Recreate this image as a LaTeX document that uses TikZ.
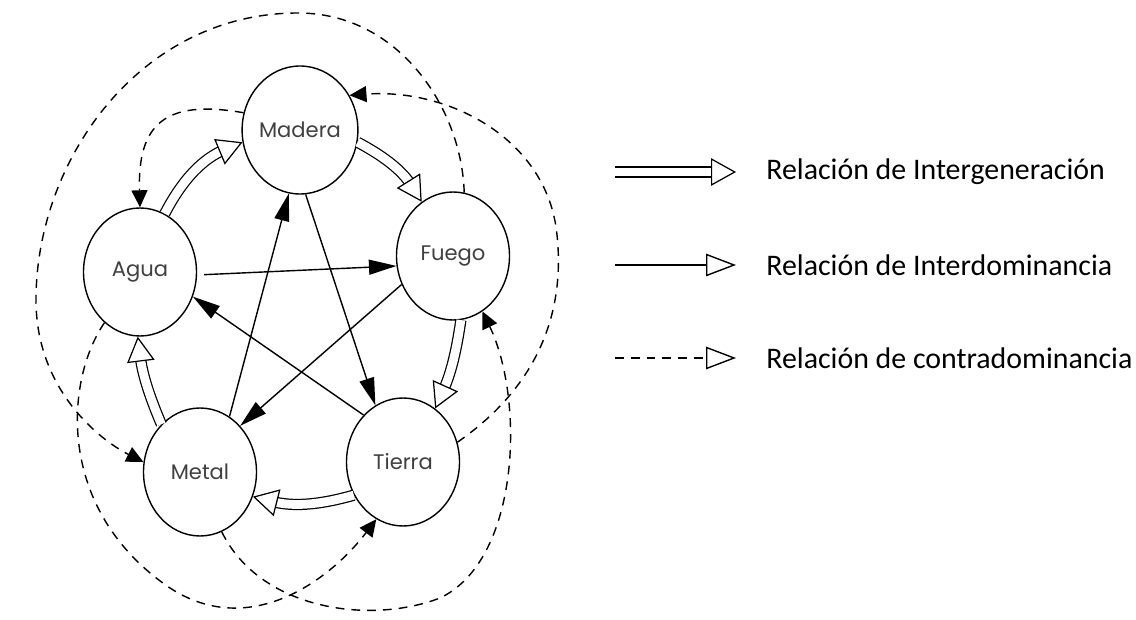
\documentclass[tikz,border=0pt]{standalone}
\usepackage{fontspec}
\setmainfont{Carlito}
\newfontfamily\elemfont{Poppins}
\usetikzlibrary{positioning,shapes.geometric,arrows.meta}

\tikzset{
  elem/.style={draw, ellipse, line width=0.8pt, minimum width=2.26cm, minimum height=2.56cm,
    inner sep=0pt, font=\elemfont\fontsize{12}{14}\selectfont, text=black!75},
  dom/.style={line width=0.8pt, -{Triangle[length=0.55cm, width=0.3cm]}},
  contra/.style={line width=0.8pt, dash pattern=on 5pt off 4pt, -{Triangle[length=0.34cm, width=0.32cm]}},
  gen/.style={double, double distance=5pt, line width=0.7pt, shorten >=0.4cm},
  genhead/.style={line width=0.7pt, dash pattern=on 0pt off 30cm, -{Triangle[length=0.5cm, width=0.55cm, fill=white]}},
  legdom/.style={line width=0.8pt, -{Triangle[length=0.6cm, width=0.45cm, fill=white]}},
  legend/.style={font=\fontsize{17}{20}\selectfont, inner sep=0pt}
}

\begin{document}
\begin{tikzpicture}
    \useasboundingbox (0,0) rectangle (22.72,12.38);

    % Elements
    \node[elem] (madera) at (6.00,9.78) {Madera};
    \node[elem] (agua)   at (2.80,6.94) {Agua};
    \node[elem] (fuego)  at (9.06,7.26) {Fuego};
    \node[elem] (metal)  at (4.00,2.94) {Metal};
    \node[elem] (tierra) at (8.06,3.14) {Tierra};

    % Intergeneration (hollow double arrows)
    \foreach \a/\b/\bend in {agua.67/madera.192/20, madera.-12/fuego.120/15,
        fuego.-83/tierra.59/8, tierra.214/metal.335/15, metal.129/agua.268/8}{
      \draw[gen] (\a) to[bend left=\bend] (\b);
      \draw[genhead] (\a) to[bend left=\bend] (\b);
    }

    % Interdominance
    \draw[dom, shorten <=4pt] (agua.-3) -- (fuego.190);
    \draw[dom] (madera.-85) -- (tierra.116);
    \draw[dom] (fuego.209) -- (metal.49);
    \draw[dom] (metal.62) -- (madera.260);
    \draw[dom] (tierra.130) -- (agua.335);

    % Contradominance
    \draw[contra] (madera.163) .. controls (3.3,10.4) and (2.75,9.9) .. (agua.north);
    \draw[contra] (tierra.20) .. controls (10.80,4.68) and (11.30,6.18) .. (11.14,7.68)
        .. controls (10.96,9.58) and (9.00,10.62) .. (madera.35);
    \draw[contra] (fuego.80) .. controls (9.24,10.18) and (8.00,12.12) .. (5.96,12.12)
        .. controls (2.80,12.12) and (0.72,9.18) .. (0.72,6.38)
        .. controls (0.72,4.58) and (2.00,3.58) .. (metal.170);
    \draw[contra] (agua.235) .. controls (1.30,4.78) and (1.10,2.18) .. (3.40,0.62)
        .. controls (5.00,-0.42) and (6.60,0.78) .. (tierra.245);
    \draw[contra] (metal.290) .. controls (5.20,0.18) and (7.40,-0.12) .. (8.80,0.42)
        .. controls (10.40,1.18) and (10.50,4.38) .. (fuego.298);

    % Legend
    \coordinate (genA) at (12.30,8.94);
    \coordinate (genB) at (14.72,8.94);
    \draw[gen] (genA) -- (genB);
    \draw[genhead] (genA) -- (genB);
    \node[legend, right=0.6cm of genB] (genTxt) {Relación de Intergeneración};

    \coordinate (domA) at (12.30,7.08);
    \coordinate (domB) at (14.72,7.08);
    \draw[legdom] (domA) -- (domB);
    \node[legend, right=0.6cm of domB] (domTxt) {Relación de Interdominancia};

    \coordinate (conA) at (12.30,5.22);
    \coordinate (conB) at (14.72,5.22);
    \draw[legdom, dash pattern=on 5pt off 4pt] (conA) -- (conB);
    \node[legend, right=0.6cm of conB] (conTxt) {Relación de contradominancia};
\end{tikzpicture}
\end{document}
